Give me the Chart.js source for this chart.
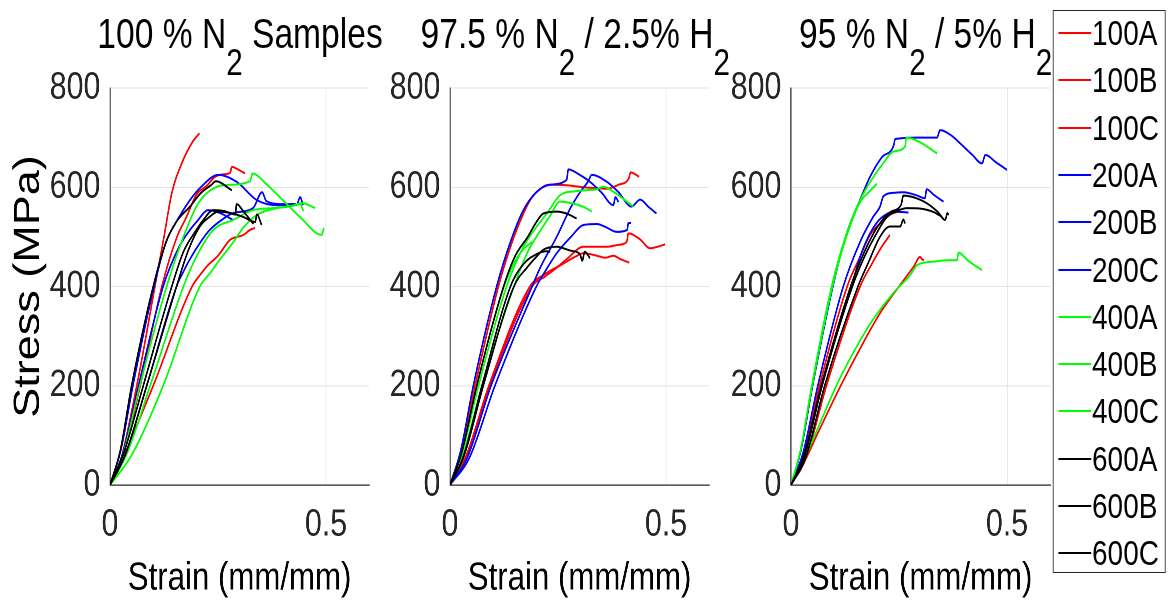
<!DOCTYPE html>
<html>
<head>
<meta charset="utf-8">
<title>Stress-strain curves</title>
<script src="https://cdn.jsdelivr.net/npm/chart.js@4.4.1/dist/chart.umd.min.js"></script>
<style>
  html, body { margin: 0; padding: 0; background: #fff; overflow: hidden; }
  /* the original figure is squeezed horizontally, so lay it out wide and squeeze it */
  #stage {
    position: absolute; left: 0; top: 0; width: 1460px; height: 606px;
    transform: scaleX(0.8); transform-origin: 0 0;
    font-family: "Liberation Sans", Arial, sans-serif; color: #000;
  }
  .panel { position: absolute; top: 0; }
  .ttl {
    position: absolute; top: 13px; width: 540px; text-align: center;
    font-size: 42px; line-height: 42px; white-space: nowrap;
  }
  .ttl sub { font-size: 37px; vertical-align: baseline; position: relative; top: 27px; }
  #legend {
    position: absolute; left: 1316px; top: 10px; width: 139px; height: 561px;
    border: 1.25px solid #262626; background: #fff;
  }
  .item { position: absolute; left: 0; width: 139px; height: 40px; }
  .item .ln { position: absolute; left: 6px; top: 19px; width: 41px; height: 2px; }
  .item .tx { position: absolute; left: 48px; top: 0; font-size: 35px; line-height: 40px; }
</style>
</head>
<body>
<div id="stage">
  <div class="ttl" style="left:30px">100 % N<sub>2</sub> Samples</div>
  <div class="ttl" style="left:449px">97.5 % N<sub>2</sub> / 2.5% H<sub>2</sub></div>
  <div class="ttl" style="left:887px">95 % N<sub>2</sub> / 5% H<sub>2</sub></div>
  <canvas id="c1" class="panel" style="left:0px" width="470" height="606"></canvas>
  <canvas id="c2" class="panel" style="left:470px" width="420" height="606"></canvas>
  <canvas id="c3" class="panel" style="left:895px" width="420" height="606"></canvas>
  <div id="legend"></div>
</div>
<script>
// sample names (legend order) and tick values
const sampleNames = ['100A', '100B', '100C', '200A', '200B', '200C', '400A', '400B', '400C', '600A', '600B', '600C'];
const xTickValues = [0, 0.5];
const yTickValues = [0, 200, 400, 600, 800];

// ---- 100 % N2 samples: [strain (mm/mm), stress (MPa)] ----
const p1_100A = [[0,0],[0.02,35],[0.062,200],[0.104,400],[0.125,500],[0.143,588],[0.166,648],[0.19,690],[0.207,709]];
const p1_100B = [[0,0],[0.022,35],[0.07,200],[0.12,400],[0.155,500],[0.177,540],[0.2,585],[0.225,604],[0.243,621],[0.262,626],[0.278,629],[0.282,641],[0.3,634],[0.3125,628]];
const p1_100C = [[0,0],[0.015,25],[0.1,200],[0.19,400],[0.21,425],[0.227,443],[0.25,462],[0.278,494],[0.309,504],[0.324,514],[0.336,518]];
const p1_200A = [[0,0],[0.025,70],[0.053,200],[0.102,400],[0.13,490],[0.154,531],[0.185,574],[0.21,600],[0.251,625],[0.293,611],[0.34,574],[0.386,564],[0.432,564],[0.44,580],[0.447,564]];
const p1_200B = [[0,0],[0.03,65],[0.066,200],[0.123,400],[0.16,480],[0.185,514],[0.2,530],[0.228,554],[0.255,548],[0.285,534]];
const p1_200C = [[0,0],[0.035,60],[0.085,200],[0.154,400],[0.17,430],[0.185,455],[0.21,490],[0.231,514],[0.26,535],[0.285,548],[0.331,558],[0.352,590],[0.362,572],[0.4,566],[0.43,566]];
const p1_400A = [[0,0],[0.03,60],[0.069,200],[0.131,400],[0.17,500],[0.2,561],[0.224,588],[0.262,604],[0.324,612],[0.33,628],[0.36,608],[0.4,574],[0.44,540],[0.49,504],[0.495,518]];
const p1_400B = [[0,0],[0.04,65],[0.093,200],[0.17,400],[0.2,460],[0.239,514],[0.285,534],[0.331,554],[0.378,558],[0.42,562],[0.445,568],[0.475,558]];
const p1_400C = [[0,0],[0.05,60],[0.123,200],[0.208,400],[0.23,425],[0.255,455],[0.286,490],[0.31,520],[0.34,544],[0.386,558],[0.42,562],[0.44,566],[0.448,552]];
const p1_600A = [[0,0],[0.024,70],[0.05,200],[0.1,400],[0.13,490],[0.154,531],[0.185,561],[0.21,588],[0.235,605],[0.245,612],[0.282,594]];
const p1_600B = [[0,0],[0.032,65],[0.077,200],[0.143,400],[0.17,470],[0.2,514],[0.216,534],[0.239,554],[0.265,552],[0.29,545],[0.293,566],[0.31,550],[0.332,526]];
const p1_600C = [[0,0],[0.035,60],[0.085,200],[0.154,400],[0.18,470],[0.208,521],[0.23,540],[0.25,551],[0.28,548],[0.309,540],[0.336,530],[0.34,545],[0.351,524]];

// ---- 97.5 % N2 / 2.5 % H2 ----
const p2_100A = [[0,0],[0.026,70],[0.058,200],[0.112,400],[0.14,480],[0.17,547],[0.19,580],[0.216,601],[0.231,605],[0.27,604],[0.309,600],[0.34,598],[0.363,597],[0.39,605],[0.414,618],[0.418,630],[0.438,621]];
const p2_100B = [[0,0],[0.04,60],[0.093,200],[0.19,400],[0.22,420],[0.25,440],[0.27,455],[0.309,480],[0.34,480],[0.363,480],[0.39,484],[0.409,490],[0.413,507],[0.44,495],[0.463,477],[0.48,480],[0.498,485]];
const p2_100C = [[0,0],[0.038,60],[0.09,200],[0.185,400],[0.22,425],[0.26,445],[0.29,460],[0.309,467],[0.34,462],[0.36,458],[0.378,462],[0.395,455],[0.415,448]];
const p2_200A = [[0,0],[0.025,70],[0.054,200],[0.108,400],[0.14,490],[0.17,554],[0.2,590],[0.231,605],[0.27,615],[0.274,636],[0.3,625],[0.324,611],[0.35,590],[0.378,564],[0.383,580],[0.39,570]];
const p2_200B = [[0,0],[0.04,55],[0.095,200],[0.19,400],[0.21,440],[0.247,500],[0.28,560],[0.301,590],[0.32,612],[0.328,625],[0.363,611],[0.39,590],[0.42,561],[0.44,575],[0.46,560],[0.478,547]];
const p2_200C = [[0,0],[0.045,55],[0.104,200],[0.2,400],[0.22,430],[0.247,467],[0.28,500],[0.309,524],[0.34,526],[0.36,520],[0.386,510],[0.41,514],[0.413,528],[0.419,528]];
const p2_400A = [[0,0],[0.028,65],[0.066,200],[0.131,400],[0.17,480],[0.2,520],[0.224,547],[0.255,584],[0.29,592],[0.316,594],[0.34,596],[0.355,601],[0.38,590],[0.424,561]];
const p2_400B = [[0,0],[0.03,60],[0.074,200],[0.148,400],[0.18,470],[0.2,500],[0.23,540],[0.255,571],[0.285,567],[0.31,560],[0.328,551]];
const p2_400C = [[0,0],[0.027,65],[0.062,200],[0.125,400],[0.15,450],[0.17,475],[0.19,490]];
const p2_600A = [[0,0],[0.027,65],[0.062,200],[0.124,400],[0.15,460],[0.18,500],[0.2,530],[0.216,547],[0.247,551],[0.27,547],[0.293,537]];
const p2_600B = [[0,0],[0.033,60],[0.077,200],[0.148,400],[0.18,440],[0.2,460],[0.216,474],[0.247,480],[0.28,472],[0.301,465],[0.306,452],[0.312,470],[0.324,457]];
const p2_600C = [[0,0],[0.032,60],[0.074,200],[0.14,400],[0.17,445],[0.2,465],[0.224,471],[0.232,470]];

// ---- 95 % N2 / 5 % H2 ----
const p3_100A = [[0,0],[0.03,45],[0.065,110],[0.115,200],[0.16,275],[0.206,346],[0.25,400],[0.284,440],[0.299,460],[0.303,455],[0.308,453]];
const p3_100B = [[0,0],[0.028,60],[0.066,200],[0.13,400],[0.16,460],[0.183,504],[0.21,530],[0.23,545],[0.249,551]];
const p3_100C = [[0,0],[0.035,55],[0.082,200],[0.16,400],[0.19,450],[0.21,480],[0.229,504]];
const p3_200A = [[0,0],[0.023,70],[0.05,200],[0.097,400],[0.13,510],[0.16,575],[0.183,621],[0.21,660],[0.238,685],[0.241,697],[0.29,700],[0.338,700],[0.345,715],[0.37,705],[0.392,688],[0.42,665],[0.442,648],[0.45,665],[0.475,650],[0.5,635]];
const p3_200B = [[0,0],[0.028,65],[0.062,200],[0.121,400],[0.16,490],[0.19,540],[0.206,561],[0.214,582],[0.24,589],[0.26,590],[0.29,584],[0.31,578],[0.314,596],[0.33,585],[0.353,571]];
const p3_200C = [[0,0],[0.03,60],[0.07,200],[0.14,400],[0.16,460],[0.179,500],[0.2,530],[0.218,544],[0.237,551],[0.272,549]];
const p3_400A = [[0,0],[0.022,70],[0.048,200],[0.094,400],[0.13,510],[0.164,581],[0.191,621],[0.215,650],[0.237,672],[0.264,682],[0.267,700],[0.3,690],[0.338,668]];
const p3_400B = [[0,0],[0.022,70],[0.049,200],[0.096,400],[0.13,505],[0.16,570],[0.18,590],[0.199,607]];
const p3_400C = [[0,0],[0.03,50],[0.06,110],[0.105,200],[0.14,260],[0.179,319],[0.206,353],[0.24,390],[0.276,423],[0.292,443],[0.33,450],[0.361,453],[0.384,453],[0.388,468],[0.41,452],[0.442,433]];
const p3_600A = [[0,0],[0.03,60],[0.07,200],[0.138,400],[0.17,470],[0.2,520],[0.23,550],[0.255,565],[0.26,583],[0.29,578],[0.314,568],[0.34,550],[0.357,534],[0.362,548],[0.365,544]];
const p3_600B = [[0,0],[0.032,60],[0.072,200],[0.142,400],[0.17,460],[0.2,510],[0.222,540],[0.245,552],[0.268,558],[0.3,557],[0.33,550],[0.35,540]];
const p3_600C = [[0,0],[0.034,55],[0.078,200],[0.155,400],[0.18,450],[0.206,500],[0.229,521],[0.253,521],[0.26,535],[0.264,527]];

const panel1 = [p1_100A, p1_100B, p1_100C, p1_200A, p1_200B, p1_200C, p1_400A, p1_400B, p1_400C, p1_600A, p1_600B, p1_600C];
const panel2 = [p2_100A, p2_100B, p2_100C, p2_200A, p2_200B, p2_200C, p2_400A, p2_400B, p2_400C, p2_600A, p2_600B, p2_600C];
const panel3 = [p3_100A, p3_100B, p3_100C, p3_200A, p3_200B, p3_200C, p3_400A, p3_400B, p3_400C, p3_600A, p3_600B, p3_600C];

// MATLAB style colours: r, b, g, k (one per temperature group)
const lineColors = ['#ff0000', '#ff0000', '#ff0000', '#0000ff', '#0000ff', '#0000ff',
                    '#00ff00', '#00ff00', '#00ff00', '#000000', '#000000', '#000000'];
const axisColor = '#262626';
const gridColor = '#e2e2e2';
const fontFamily = '"Liberation Sans", Arial, sans-serif';

function makePanel(canvasId, curves, yAxisWidth, rightPad, showYTitle) {
  const ctx = document.getElementById(canvasId).getContext('2d');
  return new Chart(ctx, {
    type: 'line',
    data: {
      datasets: curves.map((pts, i) => ({
        label: sampleNames[i],
        data: pts,
        borderColor: lineColors[i],
        borderWidth: 2,
        pointRadius: 0,
        fill: false,
        cubicInterpolationMode: 'monotone',
        order: curves.length - 1 - i // later samples on top, as in MATLAB
      }))
    },
    options: {
      responsive: false,
      animation: false,
      devicePixelRatio: 2,
      layout: { padding: { top: 88, right: rightPad, bottom: 0, left: 0 } },
      plugins: {
        legend: { display: false },
        tooltip: { enabled: false }
      },
      scales: {
        x: {
          type: 'linear',
          min: 0,
          max: 0.6,
          afterBuildTicks: s => { s.ticks = xTickValues.map(v => ({ value: v })); },
          afterFit: s => { s.height = 121; },
          ticks: {
            autoSkip: false, maxRotation: 0, padding: 17,
            color: axisColor,
            font: { family: fontFamily, size: 38 },
            callback: v => String(v)
          },
          grid: { color: gridColor, lineWidth: 1, drawTicks: false },
          border: { color: axisColor, width: 1.3 },
          title: {
            display: true,
            text: 'Strain (mm/mm)',
            color: '#000',
            font: { family: fontFamily, size: 39 },
            padding: { top: 0, bottom: 4 }
          }
        },
        y: {
          type: 'linear',
          min: 0,
          max: 800,
          afterBuildTicks: s => { s.ticks = yTickValues.map(v => ({ value: v })); },
          afterFit: s => { s.width = yAxisWidth; },
          ticks: {
            padding: 12,
            color: axisColor,
            font: { family: fontFamily, size: 38 }
          },
          grid: { color: gridColor, lineWidth: 1, drawTicks: false },
          border: { color: axisColor, width: 1.3 },
          title: {
            display: showYTitle,
            text: 'Stress (MPa)',
            color: '#000',
            font: { family: fontFamily, size: 45 },
            padding: { top: 9, bottom: 0 }
          }
        }
      }
    }
  });
}

makePanel('c1', panel1, 137.5, 8.5, true);
makePanel('c2', panel2, 92.5, 3.5, false);
makePanel('c3', panel3, 93.75, 2.25, false);

// legend box on the right
const legendEl = document.getElementById('legend');
sampleNames.forEach((name, i) => {
  const item = document.createElement('div');
  item.className = 'item';
  item.style.top = Math.round(2 + 47.3 * i) + 'px';
  item.innerHTML = '<div class="ln" style="background:' + lineColors[i] + '"></div><div class="tx">' + name + '</div>';
  legendEl.appendChild(item);
});
</script>
</body>
</html>
